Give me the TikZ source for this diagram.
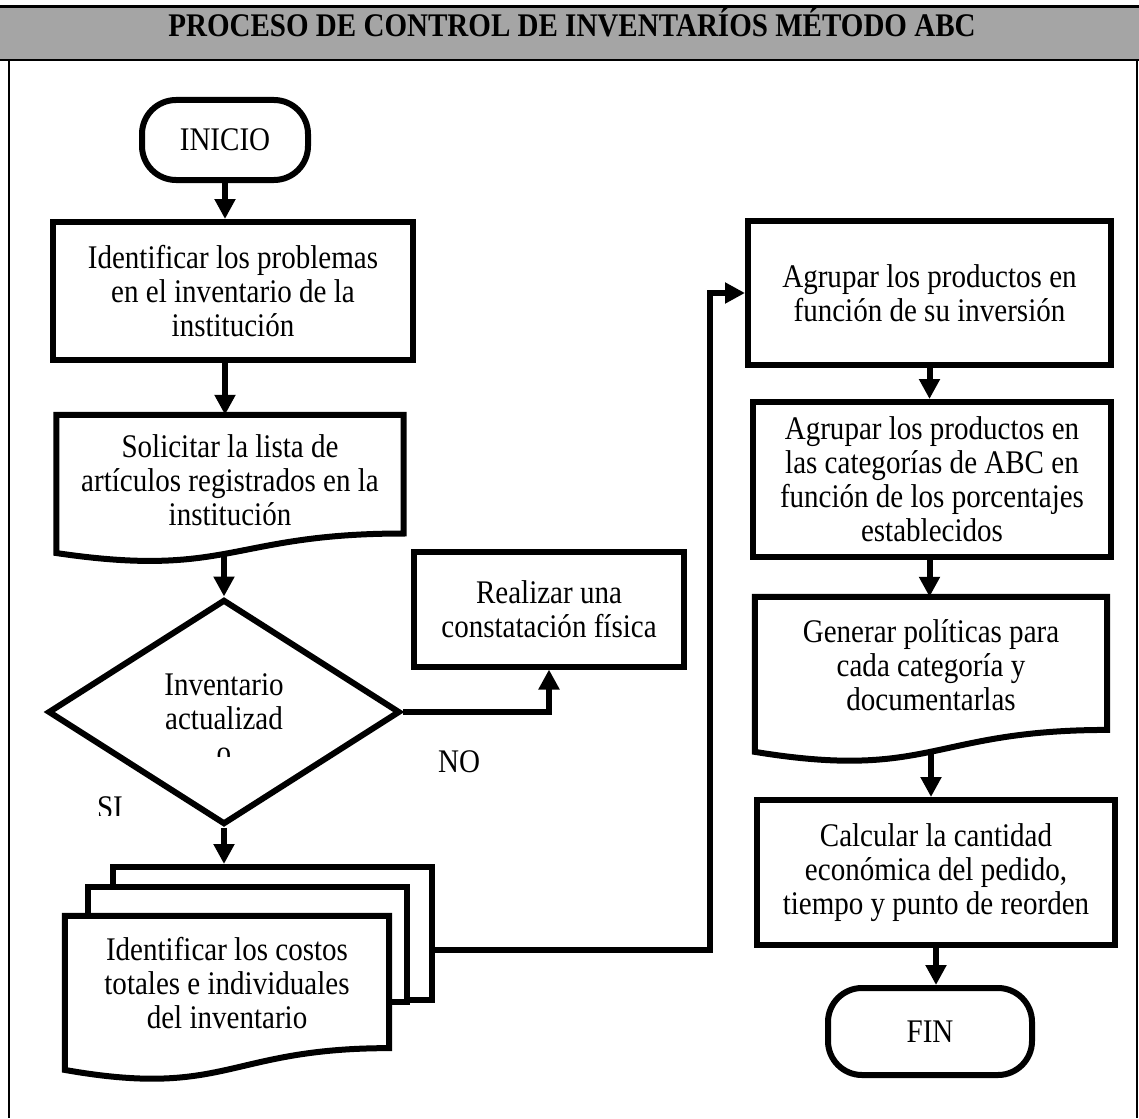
\documentclass[tikz,border=0pt]{standalone}
\usepackage{fontspec}
\setmainfont{Liberation Serif}[FakeStretch=0.88]
\usetikzlibrary{shapes.geometric,arrows.meta,calc}
\definecolor{gris}{HTML}{A5A5A5}
\tikzstyle{texto}=[
        font=\fontsize{33}{34}\selectfont,
        inner sep=0pt
]
\tikzstyle{proceso}=[texto, draw, line width=6pt, align=center]
\tikzstyle{documento}=[texto, fill=white, align=center]
\tikzstyle{terminal}=[proceso, rounded corners=34pt]
\tikzstyle{rombo}=[draw, diamond, line width=6pt, inner sep=0pt]
\tikzstyle{hojafondo}=[draw, fill=white, line width=6pt, inner sep=0pt]
\tikzstyle{flecha}=[line width=6pt, -{Triangle[length=20pt,width=20pt]}]
\tikzstyle{marco}=[line width=2pt]
% borde de un documento con el fondo ondulado (#1 nodo, #2 alto total)
\newcommand{\bordehoja}[2]{%
  \draw[line width=6pt] (#1.north west) -- (#1.north east)
    -- ($(#1.north east)+(0,0.802*#2)$)
    .. controls ($(#1.north)+(0,0.802*#2)$) and ($(#1.north)+(0,1.1075*#2)$)
    .. ($(#1.north west)+(0,0.934*#2)$) -- cycle;
}

\begin{document}
\begin{tikzpicture}[x=1pt, y=-1pt]
    \useasboundingbox (0,0) rectangle (1139,1118);

    % cabecera y marco
    \fill[gris] (0,7) rectangle (1139,60);
    \draw[line width=3pt] (0,7) -- (1139,7);
    \draw[marco] (0,60) -- (1139,60);
    \draw[marco] (9,60) -- (9,1118);
    \draw[marco] (1137,60) -- (1137,1118);
    \node[texto, font=\fontsize{33}{34}\selectfont\bfseries, anchor=base] (titulo) at (572,37) {PROCESO DE CONTROL DE INVENTARÍOS MÉTODO ABC};

    % columna izquierda
    \node[terminal, minimum width=166pt, minimum height=80pt] (inicio) at (225,140) {INICIO};
    \node[proceso, minimum width=360pt, minimum height=138pt] (identificar) at (233,291) {Identificar los problemas\\en el inventario de la\\institución};
    \node[documento, minimum width=347pt, minimum height=130pt] (solicitar) at (230,480) {Solicitar la lista de\\artículos registrados en la\\institución};
    \bordehoja{solicitar}{148}
    \coordinate (solicitar-ola) at ($(solicitar.north)+(0,0.933*148)$);

    \node[rombo, minimum width=352pt, minimum height=225pt] (decision) at (224,712) {};
    \begin{scope}
        \clip (40,660) rectangle (410,756);
        \node[texto, align=center] (pregunta) at (224,719) {Inventario\\actualizad\\o};
    \end{scope}
    \node[proceso, minimum width=270pt, minimum height=115pt] (realizar) at (549,609) {Realizar una\\constatación física};
    \node[texto, anchor=base] (no) at (459,772) {NO};
    \begin{scope}
        \clip (80,790) rectangle (140,815);
        \node[texto, anchor=base] (si) at (110,818) {SI};
    \end{scope}

    % pila de documentos
    \node[hojafondo, minimum width=319pt, minimum height=133pt] (costos-b2) at (272.5,933.5) {};
    \node[hojafondo, minimum width=319pt, minimum height=115pt] (costos-b1) at (247.5,944.5) {};
    \node[documento, minimum width=324pt, minimum height=135pt] (costos) at (227,983.5) {Identificar los costos\\totales e individuales\\del inventario};
    \bordehoja{costos}{165}

    % columna derecha
    \node[proceso, minimum width=363pt, minimum height=144pt] (agrupar) at (929.5,293) {Agrupar los productos en\\función de su inversión};
    \node[proceso, minimum width=358pt, minimum height=155pt] (categorias) at (932,479.5) {Agrupar los productos en\\las categorías de ABC en\\función de los porcentajes\\establecidos};
    \node[documento, minimum width=352pt, minimum height=136pt] (politicas) at (931,665) {Generar políticas para\\cada categoría y\\documentarlas};
    \bordehoja{politicas}{166}
    \coordinate (politicas-ola) at ($(politicas.north)+(0,0.933*166)$);
    \node[proceso, minimum width=358pt, minimum height=145pt] (calcular) at (936,872.5) {Calcular la cantidad\\económica del pedido,\\tiempo y punto de reorden};
    \node[terminal, minimum width=204pt, minimum height=87pt] (fin) at (930,1031.5) {FIN};

    % conectores
    \draw[flecha] (inicio.south) -- (inicio.south |- identificar.north);
    \draw[flecha] (inicio.south |- identificar.south) -- (inicio.south |- solicitar.north);
    \draw[flecha] (decision.north |- solicitar-ola) -- (decision.north);
    \draw[flecha] (decision.east) -| (realizar.south);
    \draw[flecha] (decision.south) -- (decision.south |- costos-b2.north);
    \coordinate (codo) at (710,950);
    \draw[flecha] (costos-b2.east |- codo) -- (codo) |- (agrupar.west);
    \draw[flecha] (agrupar.south) -- (agrupar.south |- categorias.north);
    \draw[flecha] (agrupar.south |- categorias.south) -- (agrupar.south |- politicas.north);
    \draw[flecha] (politicas-ola) -- (politicas-ola |- calcular.north);
    \draw[flecha] (calcular.south) -- (calcular.south |- fin.north);

\end{tikzpicture}
\end{document}
